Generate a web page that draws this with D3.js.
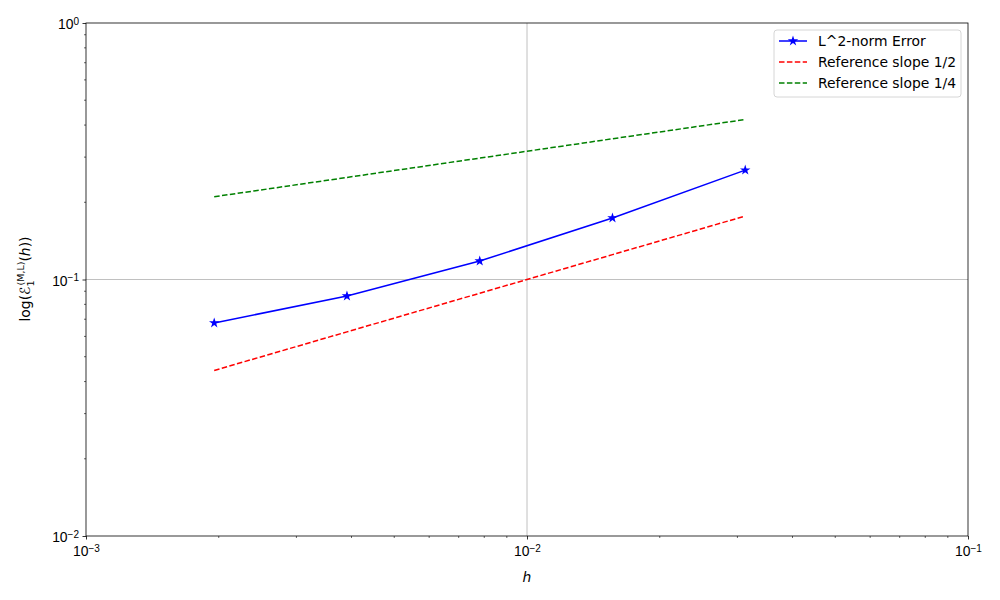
<!DOCTYPE html>
<html>
<head>
<meta charset="utf-8">
<script src="https://cdn.jsdelivr.net/npm/d3@7"></script>
<style>
  body { margin: 0; background: #fff; }
  svg { font-family: 'DejaVu Sans', sans-serif; }
</style>
</head>
<body>
<svg id="chart" width="1000" height="600"></svg>
<script>
// mesh sizes h and measured errors
const hValues = [0.001953, 0.003906, 0.0078125, 0.015625, 0.03125];
const errorValues = [0.0677, 0.0862, 0.118, 0.1738, 0.267];
const refHalf = [0.0442, 0.0625, 0.0884, 0.125, 0.1768];
const refQuarter = [0.2102, 0.25, 0.2973, 0.3536, 0.4204];
const decadeTicks = [-3, -2, -1];
const yDecadeTicks = [-2, -1, 0];

const series = [
  { name: 'L^2-norm Error', values: errorValues, color: 'blue', dash: null, marker: true },
  { name: 'Reference slope 1/2', values: refHalf, color: 'red', dash: '5.5,2.4', marker: false },
  { name: 'Reference slope 1/4', values: refQuarter, color: 'green', dash: '5.5,2.4', marker: false },
];

const margin = { top: 23, right: 32, bottom: 64, left: 86 };
const width = 1000 - margin.left - margin.right;
const height = 600 - margin.top - margin.bottom;

const svg = d3.select('#chart');
const g = svg.append('g').attr('transform', `translate(${margin.left},${margin.top})`);

const x = d3.scaleLog().domain([1e-3, 1e-1]).range([0, width]);
const y = d3.scaleLog().domain([1e-2, 1]).range([height, 0]);

// grid only on major ticks
g.append('g').selectAll('line')
  .data([1e-2])
  .join('line')
  .attr('x1', (d) => x(d)).attr('x2', (d) => x(d))
  .attr('y1', 0).attr('y2', height)
  .attr('stroke', '#b0b0b0').attr('stroke-width', 0.8);
g.append('g').selectAll('line')
  .data([1e-1])
  .join('line')
  .attr('y1', (d) => y(d)).attr('y2', (d) => y(d))
  .attr('x1', 0).attr('x2', width)
  .attr('stroke', '#b0b0b0').attr('stroke-width', 0.8);

// minor ticks
const minorX = [];
const minorY = [];
[1e-3, 1e-2].forEach((base) => d3.range(2, 10).forEach((k) => minorX.push(base * k)));
[1e-2, 1e-1].forEach((base) => d3.range(2, 10).forEach((k) => minorY.push(base * k)));

const xAxis = g.append('g').attr('transform', `translate(0,${height})`)
  .call(d3.axisBottom(x).tickValues(decadeTicks.map((p) => 10 ** p)).tickSize(3.5).tickPadding(3.5).tickFormat(() => ''));
xAxis.select('.domain').remove();
xAxis.selectAll('.tick line').attr('stroke-width', 0.8);
xAxis.selectAll('.tick').each(function (d) {
  const t = d3.select(this).select('text')
    .attr('font-size', '13.9px').attr('fill', '#000').attr('dy', '0.95em');
  const p = Math.round(Math.log10(d));
  t.append('tspan').text('10');
  t.append('tspan').attr('dy', '-0.45em').attr('font-size', '10px').text(`\u2212${-p}`);
});
g.append('g').attr('transform', `translate(0,${height})`)
  .selectAll('line').data(minorX).join('line')
  .attr('x1', (d) => x(d)).attr('x2', (d) => x(d))
  .attr('y1', 0).attr('y2', 2)
  .attr('stroke', '#000').attr('stroke-width', 0.6);

const yAxis = g.append('g')
  .call(d3.axisLeft(y).tickValues(yDecadeTicks.map((p) => 10 ** p)).tickSize(3.5).tickPadding(3.5).tickFormat(() => ''));
yAxis.select('.domain').remove();
yAxis.selectAll('.tick line').attr('stroke-width', 0.8);
yAxis.selectAll('.tick').each(function (d) {
  const t = d3.select(this).select('text')
    .attr('font-size', '13.9px').attr('fill', '#000').attr('dy', '0.4em');
  const p = Math.round(Math.log10(d));
  t.append('tspan').text('10');
  t.append('tspan').attr('dy', '-0.45em').attr('font-size', '10px')
    .text(p === 0 ? '0' : `\u2212${-p}`);
});
g.append('g')
  .selectAll('line').data(minorY).join('line')
  .attr('y1', (d) => y(d)).attr('y2', (d) => y(d))
  .attr('x1', 0).attr('x2', -2)
  .attr('stroke', '#000').attr('stroke-width', 0.6);

// frame
g.append('rect').attr('width', width).attr('height', height)
  .attr('fill', 'none').attr('stroke', '#000').attr('stroke-width', 0.8);

// lines
const line = d3.line().x((d) => x(d[0])).y((d) => y(d[1]));
series.forEach((s) => {
  const pts = hValues.map((h, i) => [h, s.values[i]]);
  g.append('path')
    .datum(pts)
    .attr('d', line)
    .attr('fill', 'none')
    .attr('stroke', s.color)
    .attr('stroke-width', 1.5)
    .attr('stroke-dasharray', s.dash);
  if (s.marker) {
    g.append('g').selectAll('path')
      .data(pts)
      .join('path')
      .attr('d', d3.symbol(d3.symbolStar, 34))
      .attr('transform', (d) => `translate(${x(d[0])},${y(d[1])})`)
      .attr('fill', s.color);
  }
});

// axis labels
svg.append('text')
  .attr('x', margin.left + width / 2).attr('y', 582)
  .attr('text-anchor', 'middle').attr('font-size', '13.9px').attr('font-style', 'italic')
  .text('h');

const yl = svg.append('text')
  .attr('transform', 'translate(30,279) rotate(-90)')
  .attr('text-anchor', 'middle').attr('font-size', '13.9px');
yl.append('tspan').text('log(');
yl.append('tspan').attr('font-style', 'italic').text('\u2130');
yl.append('tspan').attr('font-size', '9.5px').attr('dy', '4px').text('1');
yl.append('tspan').attr('font-size', '9.5px').attr('dy', '-10px').attr('dx', '-5px').text('(M,L)');
yl.append('tspan').attr('dy', '6px').text('(');
yl.append('tspan').attr('font-style', 'italic').text('h');
yl.append('tspan').text('))');

// legend
const legend = svg.append('g').attr('transform', 'translate(774,30)');
legend.append('rect')
  .attr('width', 187).attr('height', 67).attr('rx', 3)
  .attr('fill', '#fff').attr('fill-opacity', 0.8)
  .attr('stroke', '#ccc').attr('stroke-width', 0.8);
series.forEach((s, i) => {
  const row = legend.append('g').attr('transform', `translate(0,${11 + i * 21})`);
  row.append('line')
    .attr('x1', 5).attr('x2', 33)
    .attr('stroke', s.color).attr('stroke-width', 1.5)
    .attr('stroke-dasharray', s.dash);
  if (s.marker) {
    row.append('path').attr('d', d3.symbol(d3.symbolStar, 34))
      .attr('transform', 'translate(19,0)').attr('fill', s.color);
  }
  row.append('text')
    .attr('x', 44).attr('dy', '0.35em')
    .attr('font-size', '13.9px')
    .text(s.name);
});
</script>
</body>
</html>
